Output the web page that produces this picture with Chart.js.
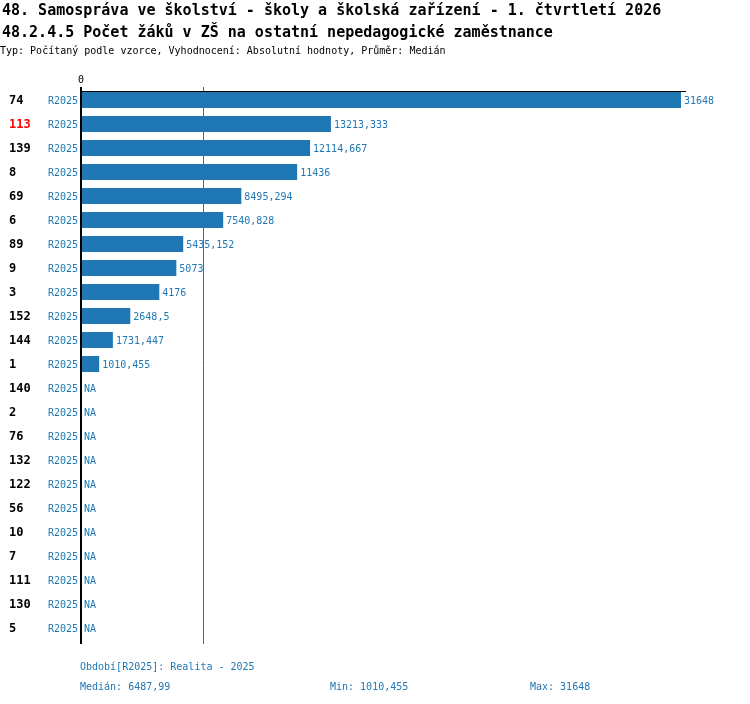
<!DOCTYPE html>
<html>
<head>
<meta charset="utf-8">
<script src="https://cdn.jsdelivr.net/npm/chart.js@4"></script>
<style>
  body { margin: 0; background: #fff; }
  canvas { display: block; }
</style>
</head>
<body>
<canvas id="chart" width="750" height="704"></canvas>
<script>
// ==========================
// Data
// ==========================
const ids = ['74', '113', '139', '8', '69', '6', '89', '9', '3', '152', '144', '1',
  '140', '2', '76', '132', '122', '56', '10', '7', '111', '130', '5'];
const periods = ids.map(() => 'R2025');
const values = [31648, 13213.333, 12114.667, 11436, 8495.294, 7540.828, 5435.152,
  5073, 4176, 2648.5, 1731.447, 1010.455,
  null, null, null, null, null, null, null, null, null, null, null];
const highlightId = '113';
const median = 6487.99;
const minVal = 1010.455;
const maxVal = 31648;

const titleLines = [
  '48. Samospráva ve školství - školy a školská zařízení - 1. čtvrtletí 2026',
  '48.2.4.5 Počet žáků v ZŠ na ostatní nepedagogické zaměstnance'
];
const subTitle = 'Typ: Počítaný podle vzorce, Vyhodnocení: Absolutní hodnoty, Průměr: Medián';

const BLUE = '#1f77b4';
const MONO = '"DejaVu Sans Mono", "Liberation Mono", monospace';

function fmt(v) {
  return String(v).replace('.', ',');
}

// ==========================
// Overlay drawing (labels, axis, median)
// ==========================
const overlay = {
  id: 'overlay',
  beforeDatasetsDraw(chart) {
    const ctx = chart.ctx;
    const x = chart.scales.x;
    const mx = Math.round(x.getPixelForValue(median)) + 0.5;
    ctx.save();
    ctx.strokeStyle = BLUE;
    ctx.lineWidth = 1;
    ctx.beginPath();
    ctx.moveTo(mx, 87);
    ctx.lineTo(mx, 644);
    ctx.stroke();
    ctx.restore();
  },
  afterDraw(chart) {
    const ctx = chart.ctx;
    const x = chart.scales.x;
    const y = chart.scales.y;
    const x0 = x.getPixelForValue(0);
    ctx.save();

    // titles
    ctx.fillStyle = '#000';
    ctx.textBaseline = 'alphabetic';
    ctx.textAlign = 'left';
    ctx.font = 'bold 15px ' + MONO;
    ctx.fillText(titleLines[0], 2, 15);
    ctx.fillText(titleLines[1], 2, 37);
    ctx.font = '10px ' + MONO;
    ctx.fillText(subTitle, 0, 54);

    // axis lines
    ctx.strokeStyle = '#000';
    ctx.lineWidth = 2;
    ctx.beginPath();
    ctx.moveTo(x0 + 1, 87);
    ctx.lineTo(x0 + 1, 644);
    ctx.stroke();
    ctx.lineWidth = 1;
    ctx.beginPath();
    ctx.moveTo(x0, 91.5);
    ctx.lineTo(686, 91.5);
    ctx.stroke();

    // zero tick label
    ctx.textAlign = 'center';
    ctx.textBaseline = 'middle';
    ctx.font = '10px ' + MONO;
    ctx.fillText('0', x0 + 1, 80);

    // row labels and values
    ids.forEach((id, i) => {
      const cy = y.getPixelForValue(i);
      ctx.textAlign = 'left';
      ctx.font = 'bold 12px ' + MONO;
      ctx.fillStyle = id === highlightId ? '#ff0000' : '#000';
      ctx.fillText(id, 9, cy + 1);

      ctx.font = '10px ' + MONO;
      ctx.fillStyle = BLUE;
      ctx.textAlign = 'right';
      ctx.fillText(periods[i], 78, cy + 1);

      ctx.textAlign = 'left';
      const v = values[i];
      if (v === null) {
        ctx.fillText('NA', x0 + 4, cy + 1);
      } else {
        ctx.fillText(fmt(v), x.getPixelForValue(v) + 3, cy + 1);
      }
    });

    // footer
    ctx.textBaseline = 'alphabetic';
    ctx.fillStyle = BLUE;
    ctx.font = '10px ' + MONO;
    ctx.fillText('Období[R2025]: Realita - 2025', 80, 670);
    ctx.fillText('Medián: ' + fmt(median), 80, 690);
    ctx.fillText('Min: ' + fmt(minVal), 330, 690);
    ctx.fillText('Max: ' + fmt(maxVal), 530, 690);

    ctx.restore();
  }
};

// ==========================
// Chart
// ==========================
new Chart(document.getElementById('chart').getContext('2d'), {
  type: 'bar',
  data: {
    labels: ids,
    datasets: [{
      data: values,
      backgroundColor: BLUE,
      borderWidth: 0,
      barPercentage: 1,
      categoryPercentage: 16 / 24
    }]
  },
  options: {
    indexAxis: 'y',
    responsive: false,
    animation: false,
    devicePixelRatio: 1,
    layout: { padding: { left: 80, right: 69, top: 88, bottom: 64 } },
    scales: {
      x: { display: false, min: 0, max: maxVal },
      y: { display: false }
    },
    plugins: {
      legend: { display: false },
      tooltip: { enabled: false }
    }
  },
  plugins: [overlay]
});
</script>
</body>
</html>
